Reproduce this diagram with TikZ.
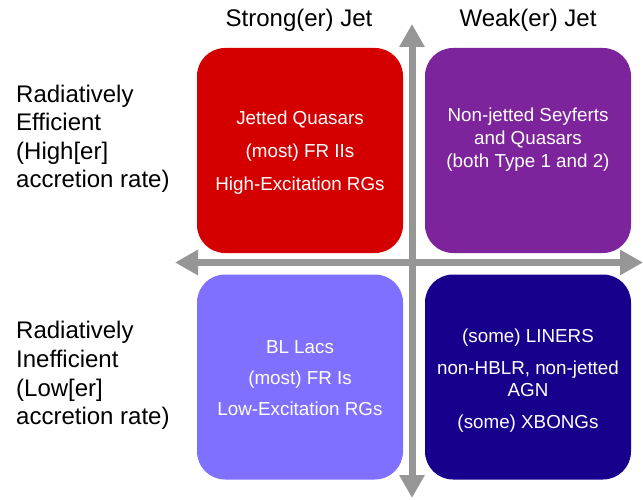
\documentclass[tikz,border=0pt]{standalone}
\usepackage{fontspec}
\setmainfont{Liberation Sans}
\usetikzlibrary{arrows.meta}
\definecolor{boxred}{RGB}{212,0,0}
\definecolor{boxpurple}{RGB}{125,35,155}
\definecolor{boxlilac}{RGB}{128,112,255}
\definecolor{boxnavy}{RGB}{22,0,140}
\definecolor{axisgray}{RGB}{150,150,150}
\tikzset{
  quad/.style={draw=none, rounded corners=28pt, minimum width=206pt, minimum height=205pt, inner sep=0pt},
  intext/.style={anchor=base, text=white, font=\fontsize{18.8}{22}\selectfont, inner sep=0pt},
  head/.style={anchor=base, font=\fontsize{24}{28}\selectfont, inner sep=0pt},
  side/.style={anchor=base west, font=\fontsize{24}{28}\selectfont, inner sep=0pt},
  axis/.style={draw=axisgray, line width=7pt, {Triangle[width=24pt,length=23pt]}-{Triangle[width=24pt,length=23pt]}}
}
\begin{document}
\begin{tikzpicture}[x=1pt,y=-1pt]
\useasboundingbox (0,0) rectangle (643,500);
% quadrants
\node[quad, fill=boxred] (q1) at (300,150.5) {};
\node[quad, fill=boxpurple] (q2) at (528,150.5) {};
\node[quad, fill=boxlilac] (q3) at (300,377) {};
\node[quad, fill=boxnavy] (q4) at (528,377) {};
% axes
\coordinate (top) at (412,24);
\coordinate (bot) at (412,498);
\coordinate (lft) at (175,262.5);
\coordinate (rgt) at (643,262.5);
\draw[axis] (bot) -- (top);
\draw[axis] (lft) -- (rgt);
% headings
\node[head] (h1) at (299,27) {Strong(er) Jet};
\node[head] (h2) at (528,27) {Weak(er) Jet};
% side labels
\node[side] (s1) at (16,103) {Radiatively};
\node[side] (s2) at (16,131) {Efficient};
\node[side] (s3) at (16,160) {(High[er]};
\node[side] (s4) at (16,188) {accretion rate)};
\node[side] (s5) at (16,338) {Radiatively};
\node[side] (s6) at (16,367) {Inefficient};
\node[side] (s7) at (16,396) {(Low[er]};
\node[side] (s8) at (16,424) {accretion rate)};
% red box text
\node[intext] (a1) at (300,125) {Jetted Quasars};
\node[intext] (a2) at (300,157.5) {(most) FR IIs};
\node[intext] (a3) at (300,190) {High-Excitation RGs};
% purple box text
\node[intext] (b1) at (528,122) {Non-jetted Seyferts};
\node[intext] (b2) at (528,145) {and Quasars};
\node[intext] (b3) at (528,167.5) {(both Type 1 and 2)};
% lilac box text
\node[intext] (c1) at (300,353) {BL Lacs};
\node[intext] (c2) at (300,384) {(most) FR Is};
\node[intext] (c3) at (300,415) {Low-Excitation RGs};
% navy box text
\node[intext] (d1) at (528,342) {(some) LINERS};
\node[intext] (d2) at (528,374) {non-HBLR, non-jetted};
\node[intext] (d3) at (528,396) {AGN};
\node[intext] (d4) at (528,428) {(some) XBONGs};
\end{tikzpicture}
\end{document}
